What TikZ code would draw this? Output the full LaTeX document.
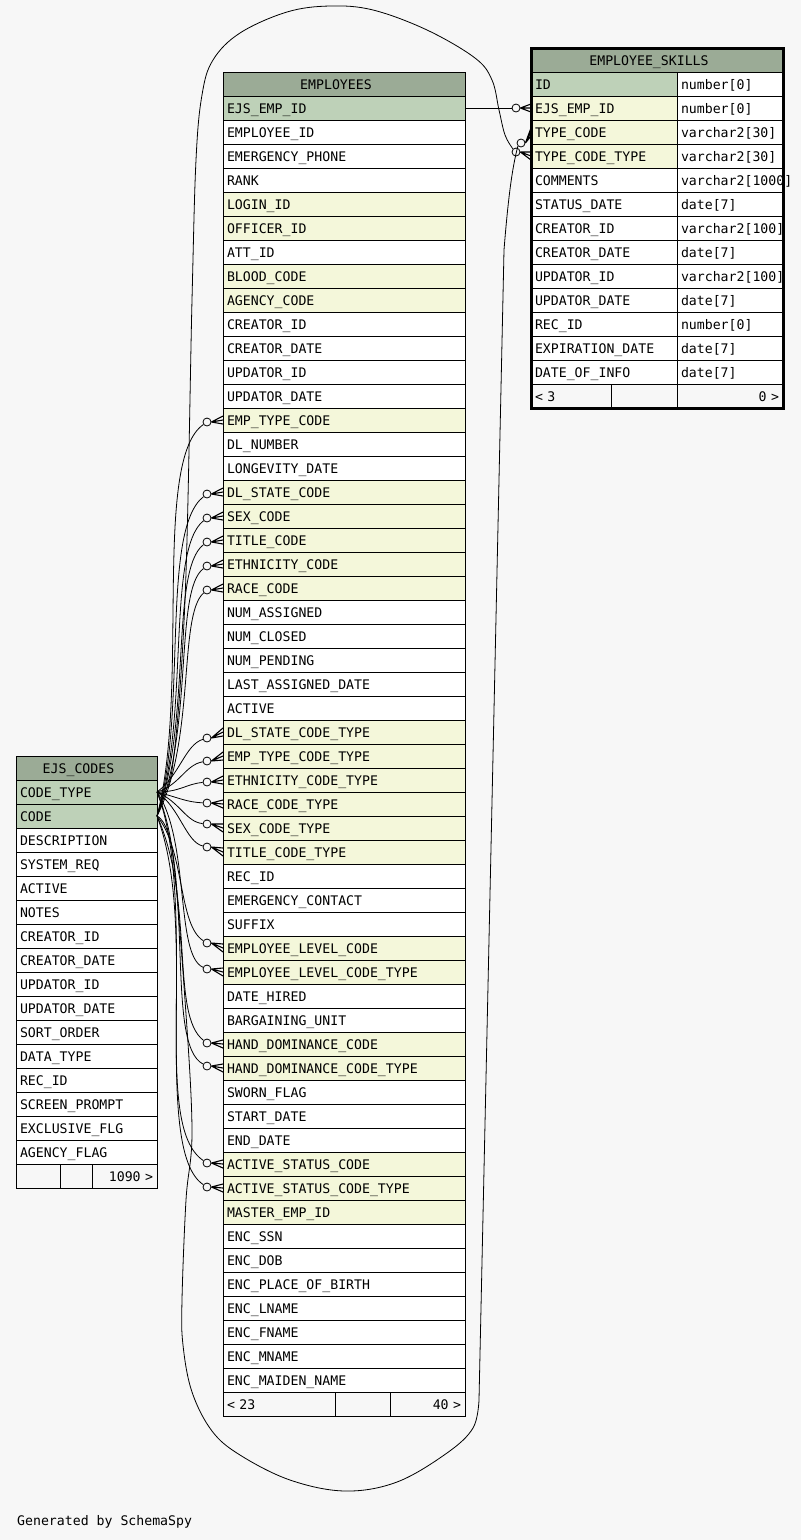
\documentclass[tikz,border=0pt]{standalone}
\usepackage{fontspec}
\setmonofont{DejaVu Sans Mono}
\usetikzlibrary{positioning}
\definecolor{cTblHead}{HTML}{9BAB96}
\definecolor{cPK}{HTML}{BED1B8}
\definecolor{cFK}{HTML}{F4F7DA}
\definecolor{bgPage}{HTML}{F7F7F7}
\newcommand{\tblfont}{\ttfamily\fontsize{13.2pt}{15pt}\selectfont}
% crow's foot from the ring to the column
\newcommand{\crowfoot}[2]{%
  \draw[crow] (#1.east) -- ([yshift=-4pt]#2.west) (#1.east) -- (#2.west) (#1.east) -- ([yshift=4pt]#2.west);}
\tikzset{
    % --- table cells ---
    cell/.style={
        rectangle, draw=black, line width=1pt, outer sep=0pt,
        text width=#1, inner xsep=4pt, inner ysep=0pt,
        minimum height=24pt, text height=11pt, text depth=1pt,
        align=left, font=\tblfont
    },
    tblhead/.style={cell=#1, fill=cTblHead, align=center},
    foot/.style={cell=#1, fill=bgPage},
    % --- relations ---
    rel/.style={draw=black, line width=0.8pt},
    odot/.style={circle, draw=black, fill=bgPage, line width=0.8pt, minimum size=8pt, inner sep=0pt},
    crow/.style={line width=1.1pt}
}

\begin{document}
\begin{tikzpicture}[x=1pt, y=-1pt]
	\fill[bgPage] (0,0) rectangle (801,1540);
	\useasboundingbox (0,0) rectangle (801,1540);

	% =========================================================
	% EMPLOYEES
	% =========================================================
	\node[tblhead=234pt, anchor=north west] (emp) at (223,72) {EMPLOYEES\kern16pt};
	\foreach \n/\f [count=\i] in {EJS\_EMP\_ID/cPK, EMPLOYEE\_ID/white, EMERGENCY\_PHONE/white, RANK/white,
			LOGIN\_ID/cFK, OFFICER\_ID/cFK, ATT\_ID/white, BLOOD\_CODE/cFK, AGENCY\_CODE/cFK,
			CREATOR\_ID/white, CREATOR\_DATE/white, UPDATOR\_ID/white, UPDATOR\_DATE/white,
			EMP\_TYPE\_CODE/cFK, DL\_NUMBER/white, LONGEVITY\_DATE/white, DL\_STATE\_CODE/cFK,
			SEX\_CODE/cFK, TITLE\_CODE/cFK, ETHNICITY\_CODE/cFK, RACE\_CODE/cFK,
			NUM\_ASSIGNED/white, NUM\_CLOSED/white, NUM\_PENDING/white, LAST\_ASSIGNED\_DATE/white,
			ACTIVE/white, DL\_STATE\_CODE\_TYPE/cFK, EMP\_TYPE\_CODE\_TYPE/cFK,
			ETHNICITY\_CODE\_TYPE/cFK, RACE\_CODE\_TYPE/cFK, SEX\_CODE\_TYPE/cFK,
			TITLE\_CODE\_TYPE/cFK, REC\_ID/white, EMERGENCY\_CONTACT/white, SUFFIX/white,
			EMPLOYEE\_LEVEL\_CODE/cFK, EMPLOYEE\_LEVEL\_CODE\_TYPE/cFK, DATE\_HIRED/white,
			BARGAINING\_UNIT/white, HAND\_DOMINANCE\_CODE/cFK, HAND\_DOMINANCE\_CODE\_TYPE/cFK,
			SWORN\_FLAG/white, START\_DATE/white, END\_DATE/white, ACTIVE\_STATUS\_CODE/cFK,
			ACTIVE\_STATUS\_CODE\_TYPE/cFK, MASTER\_EMP\_ID/cFK, ENC\_SSN/white, ENC\_DOB/white,
			ENC\_PLACE\_OF\_BIRTH/white, ENC\_LNAME/white, ENC\_FNAME/white, ENC\_MNAME/white,
			ENC\_MAIDEN\_NAME/white} {
			\node[cell=234pt, fill=\f, anchor=north west] (e\i) at (223,{72+24*\i}) {\n};
		}
	\node[foot=104pt, anchor=north west] (ef1) at (223,1392) {< 23};
	\node[foot=47pt, right=0pt of ef1] (ef2) {};
	\node[foot=67pt, align=right, right=0pt of ef2] (ef3) {40 >};

	% =========================================================
	% EJS_CODES
	% =========================================================
	\node[tblhead=133pt, anchor=north west] (codes) at (16,756) {EJS\_CODES\kern16pt};
	\foreach \n/\f [count=\i] in {CODE\_TYPE/cPK, CODE/cPK, DESCRIPTION/white, SYSTEM\_REQ/white,
			ACTIVE/white, NOTES/white, CREATOR\_ID/white, CREATOR\_DATE/white, UPDATOR\_ID/white,
			UPDATOR\_DATE/white, SORT\_ORDER/white, DATA\_TYPE/white, REC\_ID/white,
			SCREEN\_PROMPT/white, EXCLUSIVE\_FLG/white, AGENCY\_FLAG/white} {
			\node[cell=133pt, fill=\f, anchor=north west] (k\i) at (16,{756+24*\i}) {\n};
		}
	\node[foot=36pt, anchor=north west] (kf1) at (16,1164) {};
	\node[foot=24pt, right=0pt of kf1] (kf2) {};
	\node[foot=57pt, align=right, right=0pt of kf2] (kf3) {1090 >};

	% =========================================================
	% EMPLOYEE_SKILLS
	% =========================================================
	\node[tblhead=244pt, anchor=north west] (skl) at (531,48) {EMPLOYEE\_SKILLS\kern16pt};
	\foreach \n/\f/\m [count=\i] in {ID/cPK/number[0], EJS\_EMP\_ID/cFK/number[0],
			TYPE\_CODE/cFK/varchar2[30], TYPE\_CODE\_TYPE/cFK/varchar2[30],
			COMMENTS/white/varchar2[1000], STATUS\_DATE/white/date[7],
			CREATOR\_ID/white/varchar2[100], CREATOR\_DATE/white/date[7],
			UPDATOR\_ID/white/varchar2[100], UPDATOR\_DATE/white/date[7],
			REC\_ID/white/number[0], EXPIRATION\_DATE/white/date[7], DATE\_OF\_INFO/white/date[7]} {
			\node[cell=138pt, fill=\f, anchor=north west] (s\i) at (531,{48+24*\i}) {\n};
			\node[cell=98pt, fill=white, right=0pt of s\i] (t\i) {\m};
		}
	\node[foot=72pt, anchor=north west] (sf1) at (531,384) {< 3};
	\node[foot=58pt, right=0pt of sf1] (sf2) {};
	\node[foot=98pt, align=right, right=0pt of sf2] (sf3) {0 >};

	% =========================================================
	% Relations
	% =========================================================
	% --- EMPLOYEES -> EJS_CODES ---
	\foreach \k/\p/\cy/\ax/\ay/\bx/\by in {
			14/2/422/190/690/152/460, 17/2/494/188/715/160/530, 18/2/518/190/720/166/550,
			19/2/542/192/720/170/570, 20/2/566/194/730/174/590, 21/2/590/196/740/178/615,
			27/1/738/180/775/185/745, 28/1/761/180/785/185/765, 29/1/782/180/792/186/784,
			30/1/803/180/798/186/802, 31/1/824/180/802/186/822, 32/1/847/180/808/186/842,
			36/2/943/185/850/178/925, 37/1/969/190/840/175/955, 40/2/1043/195/900/170/1015,
			41/1/1066/195/880/165/1045, 45/2/1163/200/930/150/1125, 46/1/1187/200/900/150/1150} {
			\node[odot] (o\k) at (207,\cy) {};
			\draw[rel] (k\p.east) .. controls (\ax,\ay) and (\bx,\by) .. (o\k);
			\crowfoot{o\k}{e\k}
		}

	% --- EMPLOYEE_SKILLS -> EMPLOYEES ---
	\node[odot] (oemp) at (516,108) {};
	\draw[rel] (e1.east) -- (oemp);
	\crowfoot{oemp}{s2}

	% --- EMPLOYEE_SKILLS -> EJS_CODES (round the top) ---
	\node[odot] (otct) at (516,152) {};
	\draw[rel] plot[smooth, tension=0.6] coordinates {(k1.east) (172,770) (185,600) (192,300)
			(196,160) (202,95) (213,60) (240,33) (287,12) (330,6) (373,10) (427,30) (475,58)
			(492,80) (499,110) (505,135) (otct.north west)};
	\crowfoot{otct}{s4}

	% --- EMPLOYEE_SKILLS -> EJS_CODES (round the bottom) ---
	\node[odot] (otc) at (521,143) {};
	\draw[rel] plot[smooth, tension=0.6] coordinates {(k2.east) (172,850) (185,1000) (192,1130)
			(186,1200) (182,1300) (183,1345) (192,1392) (212,1431) (240,1455) (290,1480)
			(345,1491) (397,1482) (447,1453) (473,1428) (479,1400)}
		-- (504,250) .. controls (508,200) and (512,168) .. (otc.south west);
	\crowfoot{otc}{s3}

	% --- focus border ---
	\draw[line width=3pt] (skl.north west) rectangle (sf3.south east);

	\node[anchor=base west, font=\tblfont, inner sep=0pt] (gen) at (17,1525) {Generated by SchemaSpy};

\end{tikzpicture}
\end{document}
